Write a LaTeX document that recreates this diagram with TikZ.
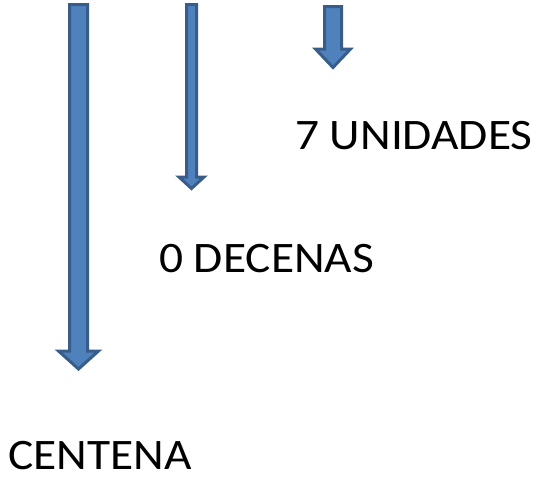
\documentclass[tikz,border=0pt]{standalone}
\usepackage{fontspec}
\setmainfont{Carlito}
\definecolor{arrowfill}{HTML}{4F81BD}
\definecolor{arrowline}{HTML}{385D8A}
\tikzset{
  blockarrow/.style={fill=arrowfill, draw=arrowline, line width=3pt, line join=miter},
  label/.style={anchor=base west, inner sep=0pt, text depth=0pt, xscale=1.09, font=\fontsize{43.5}{50}\selectfont}
}
% cx, top, shaft width, head width, head start, tip
\newcommand{\downblock}[6]{%
  \draw[blockarrow] (#1-#3/2,#2) -- (#1+#3/2,#2) -- (#1+#3/2,#5) -- (#1+#4/2,#5)
    -- (#1,#6) -- (#1-#4/2,#5) -- (#1-#3/2,#5) -- cycle;}
\begin{document}
\begin{tikzpicture}[x=1pt,y=-1pt]
\useasboundingbox (0,0) rectangle (539,477);

\downblock{78.5}{4.5}{18}{40}{351}{369}
\downblock{191.5}{4.5}{10}{25}{177}{188.5}
\downblock{333}{6.5}{17}{35}{49}{67.5}

\node[label] (unidades) at (295,149) {7 UNIDADES};
\node[label] (decenas) at (159,272) {0 DECENAS};
\node[label] (centena) at (8,469) {CENTENA};

\end{tikzpicture}
\end{document}
